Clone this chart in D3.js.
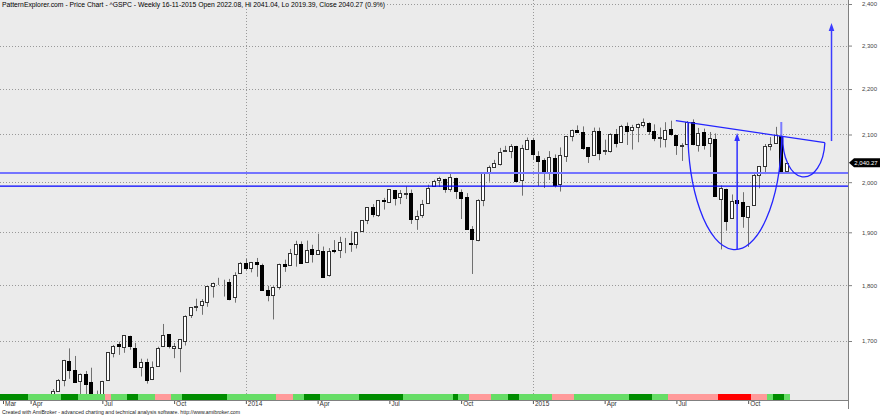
<!DOCTYPE html>
<html><head><meta charset="utf-8">
<script src="https://cdn.jsdelivr.net/npm/d3@7"></script>
<style>body{margin:0;background:#fff}svg{display:block}text{font-family:"Liberation Sans",Arial,sans-serif}</style>
</head><body><svg id="c" width="880" height="415"></svg>
<script>
// Weekly ^GSPC bars, first bar = week of 2013-02-25, last = week of 2015-11-16
const opens = [1515.6,1518.2,1551.2,1560.7,1556.9,1569.2,1553.3,1588.9,1555.3,1582.3,1614.4,1633.7,1666.3,1650.3,1631.7,1644.3,1630.6,1588.8,1609.8,1634.2,1679.6,1694.4,1690.3,1708.0,1688.4,1655.3,1664.3,1636.0,1656.9,1691.7,1711.4,1687.3,1687.2,1699.9,1745.2,1759.4,1763.4,1770.0,1798.8,1806.3,1806.6,1806.2,1777.5,1822.9,1841.5,1832.3,1842.3,1837.2,1791.0,1782.7,1797.0,1838.6,1836.8,1857.7,1877.9,1842.8,1867.7,1859.2,1863.9,1818.2,1865.8,1865.0,1879.5,1880.0,1876.7,1902.0,1923.9,1949.0,1934.8,1962.9,1960.8,1984.2,1969.8,1976.9,1978.3,1926.6,1933.4,1958.4,1991.7,2004.1,2007.2,1986.0,2009.1,1979.0,1970.0,1905.7,1885.6,1963.0,2018.2,2032.0,2038.3,2065.1,2065.8,2074.8,2005.0,2069.3,2087.6,2054.4,2046.1,2020.8,2050.4,1996.7,2053.5,2096.5,2109.8,2105.2,2072.3,2055.4,2108.0,2064.1,2064.9,2102.0,2084.1,2119.3,2110.2,2115.6,2121.3,2125.3,2108.6,2092.3,2091.3,2112.5,2098.6,2075.0,2080.0,2126.8,2078.2,2104.5,2081.0,2089.7,1965.2,1986.7,1927.3,1963.1,1960.8,1929.2,1954.3,2015.7,2033.5,2075.1,2080.8,2096.6,2022.08];
const highs = [1525.3,1563.6,1563.6,1564.6,1570.3,1573.7,1597.4,1588.9,1592.6,1618.5,1635.0,1667.5,1687.2,1674.2,1644.4,1648.7,1654.2,1615.9,1632.1,1680.2,1693.1,1698.8,1709.7,1709.2,1696.8,1669.5,1669.5,1664.8,1690.0,1729.9,1711.4,1696.6,1703.4,1745.3,1759.8,1775.2,1774.5,1798.2,1804.8,1813.6,1810.0,1811.5,1823.8,1842.8,1849.4,1843.2,1850.8,1840.0,1798.8,1798.0,1840.0,1847.5,1867.9,1883.6,1882.4,1884.0,1875.9,1897.3,1872.5,1869.6,1884.9,1891.3,1889.1,1902.2,1901.3,1924.0,1949.4,1955.6,1963.9,1968.2,1985.6,1984.2,1983.9,1991.4,1984.9,1942.9,1964.0,1994.8,2005.0,2011.2,2007.2,2019.3,2009.1,1985.2,1977.8,1912.1,1965.3,2018.2,2034.3,2046.2,2071.5,2075.8,2079.5,2075.8,2077.9,2093.6,2093.0,2064.4,2049.3,2064.6,2057.6,2072.4,2097.0,2110.6,2119.6,2117.5,2072.3,2114.9,2114.9,2089.0,2102.6,2111.9,2120.9,2125.9,2120.9,2123.9,2134.7,2126.2,2121.9,2115.0,2126.6,2129.9,2098.6,2081.3,2129.0,2132.8,2114.2,2112.7,2105.4,2102.3,1993.5,1986.7,1975.0,2020.9,1979.6,1951.4,2020.1,2033.5,2079.7,2094.3,2116.5,2096.6,2041.04];
const lows = [1485.0,1501.5,1547.4,1538.6,1546.2,1539.5,1548.6,1536.0,1548.2,1581.3,1614.0,1623.0,1635.5,1630.7,1598.2,1608.1,1577.7,1560.3,1604.6,1634.2,1671.8,1676.0,1679.6,1684.9,1654.2,1639.4,1627.5,1633.4,1656.9,1691.7,1687.1,1670.4,1646.5,1692.1,1740.5,1752.7,1746.2,1760.6,1777.2,1800.3,1779.1,1772.3,1768.0,1822.9,1827.7,1823.7,1815.5,1790.3,1770.5,1737.9,1791.8,1824.6,1836.8,1834.4,1839.6,1842.8,1842.1,1859.2,1814.4,1815.8,1859.7,1850.6,1859.8,1862.4,1868.8,1902.0,1916.0,1929.6,1930.0,1944.7,1958.2,1952.9,1955.6,1965.8,1916.4,1904.8,1928.3,1958.4,1991.0,1990.1,1978.5,1980.3,1966.0,1926.0,1905.0,1820.7,1882.6,1951.4,2001.0,2030.2,2034.5,2065.1,2049.6,2002.1,1972.6,2069.3,2046.0,1992.4,1988.1,2004.5,1989.2,1980.9,2041.9,2085.4,2103.8,2067.3,2039.7,2055.4,2045.5,2056.5,2061.6,2072.4,2084.1,2077.6,2067.9,2083.4,2115.2,2099.2,2085.7,2072.1,2072.5,2097.4,2056.6,2044.0,2080.0,2077.0,2063.5,2067.9,2052.1,1970.9,1867.0,1903.1,1927.3,1953.0,1908.8,1871.9,1954.3,1987.5,2016.6,2066.0,2080.8,2022.0,2019.39];
const closes = [1518.2,1551.2,1560.7,1556.9,1569.2,1553.3,1588.9,1555.3,1582.2,1614.4,1633.7,1667.5,1649.6,1630.7,1643.4,1626.7,1592.4,1606.3,1631.9,1680.2,1692.1,1691.7,1709.7,1691.4,1655.8,1663.5,1633.0,1655.2,1688.0,1709.9,1691.8,1690.5,1703.2,1744.5,1759.8,1761.6,1770.6,1798.2,1804.8,1805.8,1805.1,1775.3,1818.3,1841.4,1831.4,1842.4,1838.7,1790.3,1782.6,1797.0,1838.6,1836.3,1859.5,1878.0,1841.1,1866.5,1857.6,1865.1,1815.7,1864.9,1863.4,1881.1,1878.5,1877.9,1900.5,1923.6,1949.4,1936.2,1962.9,1961.0,1985.4,1967.6,1978.2,1978.3,1925.2,1931.6,1955.1,1988.4,2003.4,2007.7,1985.5,2010.4,1982.9,1967.9,1906.1,1886.8,1964.6,2018.1,2031.9,2039.8,2063.5,2067.6,2075.4,2002.3,2070.7,2088.8,2058.2,2044.8,2019.4,2051.8,1995.0,2055.5,2097.0,2110.3,2104.5,2071.3,2053.4,2108.1,2061.0,2067.0,2102.1,2081.2,2117.7,2108.3,2116.1,2122.7,2126.1,2107.4,2092.8,2094.1,2110.0,2101.5,2076.8,2076.6,2126.6,2079.7,2103.8,2077.6,2091.5,1970.9,1988.9,1921.2,1961.1,1958.0,1931.3,1951.4,2014.9,2033.1,2075.2,2079.4,2099.2,2023.0,2040.27];
// ribbon state per week: D dark green, L light green, P pink, R red
const ribbon = "DDDDDLLLLLLDDDLLLLLPLLLDDLLLPPPLLDDDDDDDDLLLLLLLLLPPPLLDDDLLLLLLLDDDDDDDDLLLLLLLLLDLLPPPPLLLDDLLLLLLPPPPLLLLLLLLLLDDDDLLLPPPPPPPPPRRRRRRPPPLDDL".split("");
const yTicks = [1700,1800,1900,2000,2100,2200,2300,2400];
const xTickIdx = [0,5,18,31,44,57,70,83,96,109,122,135];
const xTickLabels = ["Mar","Apr","Jul","Oct","2014","Apr","Jul","Oct","2015","Apr","Jul","Oct"];
const yearIdx = [44,96];
const lastPrice = 2040.27;
const titleText = "PatternExplorer.com - Price Chart - ^GSPC - Weekly 16-11-2015 Open 2022.08, Hi 2041.04, Lo 2019.39, Close 2040.27 (0.9%)";
const footerText = "Created with AmiBroker - advanced charting and technical analysis software. http://www.amibroker.com";
// drawn studies (bar index, price)
const supportLevels = [2019, 1992];
const trendLine = [[121.9,2130],[148.9,2082.5]];
const cup = {from:124.1, to:141.1, low:1867};
const handle = {from:141.3, to:148.9, low:2011};
const depthArrow = {at:133, from:1867, to:2103};
const targetArrow = {at:150.1, from:2086, to:2354};
const handleMarker = {at:141, from:2127, to:2021};

const ribbonColors = {D:"#008c00", L:"#66dd66", P:"#ff9a9a", R:"#ff0000"};
const svg = d3.select("#c");
const plotR = 848, plotB = 400, ribbonTop = 394;
const x = d3.scaleLinear().domain([0, closes.length-1]).range([3, 786.8]);
const step = x(1)-x(0);
const y = d3.scaleLog().domain([1700,2400]).range([341,4]);

svg.append("rect").attr("width",880).attr("height",415).attr("fill","#fff");
svg.append("rect").attr("width",plotR).attr("height",plotB).attr("fill","#ebebeb");

// grid
svg.append("g").selectAll("line").data(yTicks).join("line")
  .attr("x1",0).attr("x2",plotR)
  .attr("y1",d=>Math.round(y(d))+0.5).attr("y2",d=>Math.round(y(d))+0.5)
  .attr("stroke","#999").attr("stroke-dasharray","1,2");
svg.append("g").selectAll("line").data(yearIdx).join("line")
  .attr("x1",d=>Math.round(x(d))+0.5).attr("x2",d=>Math.round(x(d))+0.5)
  .attr("y1",0).attr("y2",plotB)
  .attr("stroke","#999").attr("stroke-dasharray","1,2");

// title
svg.append("rect").attr("x",0).attr("y",0).attr("width",387).attr("height",9).attr("fill","#ebebeb");
svg.append("text").attr("x",2).attr("y",7).attr("font-size",7).attr("fill","#000")
  .attr("textLength",383).attr("lengthAdjust","spacingAndGlyphs").text(titleText);

// clip
svg.append("defs").append("clipPath").attr("id","pc").append("rect")
  .attr("x",0).attr("y",0).attr("width",plotR).attr("height",ribbonTop);

const data = closes.map((c,i)=>({i,o:opens[i],h:highs[i],l:lows[i],c}));

// handle marker behind candles
const under = svg.append("g").attr("clip-path","url(#pc)");
under.append("line")
  .attr("x1",x(handleMarker.at)).attr("x2",x(handleMarker.at))
  .attr("y1",y(handleMarker.from)).attr("y2",y(handleMarker.to))
  .attr("stroke","#7b7bff").attr("stroke-width",2);

const cg = svg.append("g").attr("clip-path","url(#pc)");
const bars = cg.selectAll("g").data(data).join("g");
bars.append("line")
  .attr("x1",d=>Math.round(x(d.i))+0.5).attr("x2",d=>Math.round(x(d.i))+0.5)
  .attr("y1",d=>y(d.h)).attr("y2",d=>y(d.l))
  .attr("stroke","#707070").attr("stroke-width",1);
bars.append("rect")
  .attr("x",d=>Math.round(x(d.i))-1.5)
  .attr("width",3)
  .attr("y",d=>Math.round(y(Math.max(d.o,d.c)))+0.5)
  .attr("height",d=>Math.max(0, Math.round(y(Math.min(d.o,d.c)))-Math.round(y(Math.max(d.o,d.c)))))
  .attr("fill",d=>d.c>=d.o?"#fff":"#000")
  .attr("stroke",d=>d.c>=d.o?"#333":"#000").attr("stroke-width",1);

// ribbon
svg.append("g").attr("shape-rendering","crispEdges").selectAll("rect").data(ribbon).join("rect")
  .attr("x",(d,i)=>Math.round(x(i)-step/2))
  .attr("width",(d,i)=>Math.round(x(i)+step/2)-Math.round(x(i)-step/2))
  .attr("y",ribbonTop).attr("height",plotB-ribbonTop)
  .attr("fill",d=>ribbonColors[d]);

// studies
const st = svg.append("g").attr("clip-path","url(#pc)").attr("fill","none");
st.selectAll(".sup").data(supportLevels).join("line").attr("class","sup")
  .attr("x1",0).attr("x2",plotR).attr("y1",d=>y(d)).attr("y2",d=>y(d))
  .attr("stroke",(d,k)=>k===0?"#7474ff":"#0000ff").attr("stroke-width",(d,k)=>k===0?2:1.3);
const tx0 = x(trendLine[0][0]), ty0 = y(trendLine[0][1]), tx1 = x(trendLine[1][0]), ty1 = y(trendLine[1][1]);
const trendY = px => ty0 + (px-tx0)*(ty1-ty0)/(tx1-tx0);
st.append("line").attr("x1",tx0).attr("y1",ty0).attr("x2",tx1).attr("y2",ty1)
  .attr("stroke","#2424ff").attr("stroke-width",1.3);
function bowl(b){
  const xl = x(b.from), xr = x(b.to), yl = trendY(xl), yr = trendY(xr);
  const rx = (xr-xl)/2, ry = y(b.low) - (yl+yr)/2;
  return `M${xl},${yl} A${rx},${ry} 0 0 0 ${xr},${yr}`;
}
st.append("path").attr("d",bowl(cup)).attr("stroke","#2424ff").attr("stroke-width",1.3);
st.append("path").attr("d",bowl(handle)).attr("stroke","#2424ff").attr("stroke-width",1.3);
function arrow(a, col){
  const ax = x(a.at), y0 = y(a.from), y1 = y(a.to);
  st.append("line").attr("x1",ax).attr("x2",ax).attr("y1",y0).attr("y2",y1+6)
    .attr("stroke",col).attr("stroke-width",1.5);
  st.append("path").attr("d",`M${ax},${y1} L${ax-2.8},${y1+8} L${ax+2.8},${y1+8} Z`).attr("fill",col);
}
arrow(depthArrow,"#3030ff");
arrow(targetArrow,"#3c3cff");

// axes
const ya = svg.append("g").attr("transform",`translate(${plotR},0)`)
  .call(d3.axisRight(y).tickValues(yTicks).tickFormat(d3.format(",")).tickSize(4).tickPadding(10));
ya.select(".domain").remove();
ya.selectAll("line").attr("stroke","#808080");
ya.selectAll("text").attr("font-size",6).attr("fill","#444").attr("font-family","Liberation Sans, Arial, sans-serif");

const xa = svg.append("g").attr("transform",`translate(0,${plotB})`)
  .call(d3.axisBottom(x).tickValues(xTickIdx).tickFormat((d,k)=>xTickLabels[k]).tickSize(4));
xa.select(".domain").remove();
xa.selectAll("line").attr("stroke","#555");
xa.selectAll("text").attr("font-size",6.5).attr("fill","#333").attr("text-anchor","start")
  .attr("x",1.5).attr("y",1.5).attr("dy","0.71em").attr("font-family","Liberation Sans, Arial, sans-serif");

svg.append("line").attr("x1",0).attr("x2",plotR+0.5).attr("y1",plotB+0.5).attr("y2",plotB+0.5).attr("stroke","#808080");
svg.append("line").attr("x1",plotR+0.5).attr("x2",plotR+0.5).attr("y1",0).attr("y2",409).attr("stroke","#808080");

// last price tag
const ly = y(lastPrice);
svg.append("path").attr("d",`M${plotR+1},${ly} L${plotR+6},${ly-4.5} L880,${ly-4.5} L880,${ly+4.5} L${plotR+6},${ly+4.5} Z`).attr("fill","#000");
svg.append("text").attr("x",866).attr("y",ly).attr("dy","0.35em").attr("text-anchor","middle")
  .attr("font-size",6).attr("fill","#fff").text(d3.format(",.2f")(lastPrice));

// footer
svg.append("text").attr("x",2).attr("y",414).attr("font-size",5.5).attr("fill","#222")
  .attr("textLength",238).attr("lengthAdjust","spacingAndGlyphs").text(footerText);
</script></body></html>
